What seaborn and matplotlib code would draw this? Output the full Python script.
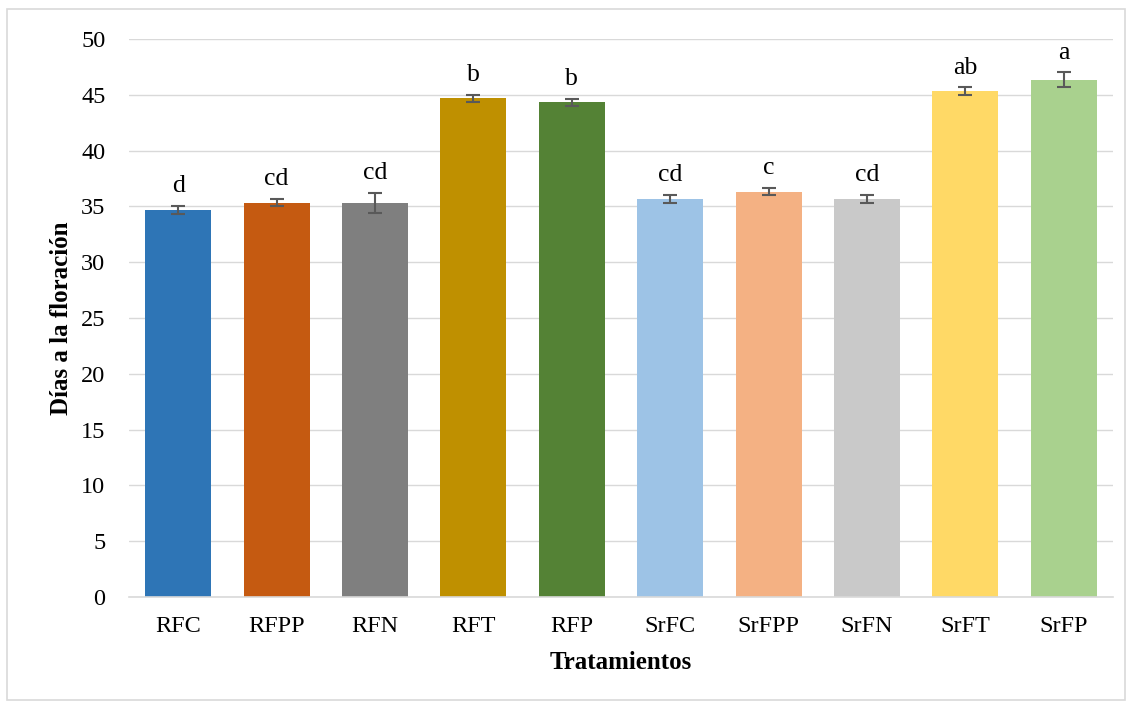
import pandas as pd
import matplotlib.pyplot as plt
import seaborn as sns
from matplotlib.patches import Rectangle


# ==========================================
# DATA
# ==========================================

tratamientos = ["RFC", "RFPP", "RFN", "RFT", "RFP",
                "SrFC", "SrFPP", "SrFN", "SrFT", "SrFP"]

dias = [34.67, 35.33, 35.33, 44.67, 44.33,
        35.67, 36.33, 35.67, 45.33, 46.33]

error = [0.33, 0.33, 0.88, 0.33, 0.33,
         0.33, 0.33, 0.33, 0.33, 0.67]

letras = ["d", "cd", "cd", "b", "b",
          "cd", "c", "cd", "ab", "a"]

colores = ["#2E75B6", "#C55A11", "#7F7F7F", "#BF9000", "#548235",
           "#9DC3E6", "#F4B183", "#C9C9C9", "#FFD966", "#A9D18E"]

df = pd.DataFrame({"Tratamientos": tratamientos, "Dias": dias})


# ==========================================
# STYLE
# ==========================================

sns.set_style("white")
plt.rcParams["font.family"] = ["Liberation Serif", "DejaVu Serif"]
plt.rcParams["text.color"] = "black"
plt.rcParams["axes.labelcolor"] = "black"


# ==========================================
# PLOT
# ==========================================

fig = plt.figure(figsize=(11.31, 7.04), dpi=100)
ax = fig.add_axes([129 / 1131, 1 - 597 / 704, (1113 - 129) / 1131, (597 - 39) / 704])

# light border around the chart area
fig.patches.append(Rectangle((7 / 1131, 4 / 704), 1118 / 1131, 691 / 704,
                             transform=fig.transFigure, fill=False,
                             edgecolor="#D9D9D9", linewidth=1.2))

sns.barplot(
    data=df,
    x="Tratamientos",
    y="Dias",
    hue="Tratamientos",
    palette=colores,
    saturation=1,
    width=0.67,
    linewidth=0,
    errorbar=None,
    legend=False,
    ax=ax,
    zorder=2
)

ax.errorbar(
    range(len(tratamientos)),
    dias,
    yerr=error,
    fmt="none",
    ecolor="#595959",
    elinewidth=1.5,
    capsize=5,
    capthick=1.5,
    zorder=3
)

for i, (v, e, l) in enumerate(zip(dias, error, letras)):
    ax.text(i, v + e + 0.8, l, ha="center", va="bottom", fontsize=18.5, color="black")

ax.set_ylim(0, 50)
ax.set_yticks(range(0, 51, 5))
ax.set_xlim(-0.5, len(tratamientos) - 0.5)
ax.yaxis.grid(True, color="#D9D9D9", linewidth=1)
ax.set_axisbelow(True)

for s in ["top", "right", "left"]:
    ax.spines[s].set_visible(False)
ax.spines["bottom"].set_color("#D9D9D9")
ax.spines["bottom"].set_linewidth(1.2)

ax.tick_params(axis="both", length=0, labelsize=17.5, colors="black")
ax.tick_params(axis="x", pad=14)
ax.tick_params(axis="y", pad=17)

ax.set_xlabel("Tratamientos", fontsize=18, fontweight="bold", labelpad=10)
ax.set_ylabel("Días a la floración", fontsize=18, fontweight="bold", labelpad=6)

fig.savefig("out.png", dpi=100)
plt.close()
